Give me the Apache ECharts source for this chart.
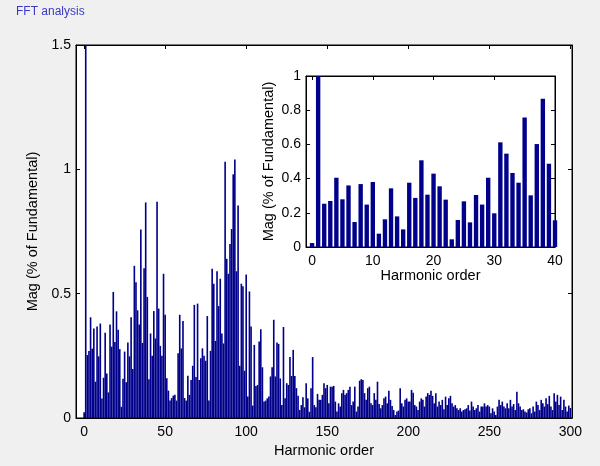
<!DOCTYPE html>
<html>
<head>
<meta charset="utf-8">
<script src="https://cdn.jsdelivr.net/npm/echarts@6/dist/echarts.min.js"></script>
<style>
html,body{margin:0;padding:0;background:#f0f0f0;}
#chart{width:600px;height:466px;}
</style>
</head>
<body>
<div id="chart"></div>
<script>
// Magnitude (% of fundamental) for harmonic orders 0..300
const magnitude = [
  0.023, 100, 0.253, 0.269, 0.405, 0.279, 0.36, 0.146, 0.368, 0.248,
  0.38, 0.078, 0.162, 0.343, 0.179, 0.103, 0.376, 0.287, 0.507, 0.306,
  0.429, 0.355, 0.277, 0.045, 0.158, 0.267, 0.144, 0.304, 0.248, 0.405,
  0.197, 0.612, 0.546, 0.433, 0.376, 0.758, 0.302, 0.602, 0.867, 0.487,
  0.156, 0.34, 0.25, 0.43, 0.32, 0.87, 0.44, 0.29, 0.25, 0.58,
  0.415, 0.16, 0.11, 0.07, 0.08, 0.09, 0.093, 0.07, 0.26, 0.415,
  0.28, 0.39, 0.08, 0.07, 0.17, 0.093, 0.153, 0.21, 0.455, 0.165,
  0.46, 0.153, 0.24, 0.28, 0.25, 0.23, 0.41, 0.07, 0.27, 0.60,
  0.54, 0.31, 0.59, 0.45, 0.56, 0.34, 0.30, 1.03, 0.64, 0.58,
  0.70, 0.76, 0.98, 1.04, 0.59, 0.855, 0.21, 0.54, 0.53, 0.19,
  0.577, 0.086, 0.509, 0.368, 0.05, 0.294, 0.129, 0.133, 0.308, 0.357,
  0.204, 0.066, 0.070, 0.079, 0.086, 0.167, 0.204, 0.395, 0.167, 0.304,
  0.298, 0.159, 0.052, 0.366, 0.079, 0.140, 0.133, 0.245, 0.169, 0.274,
  0.169, 0.12, 0.089, 0.032, 0.052, 0.083, 0.043, 0.14, 0.079, 0.025,
  0.12, 0.245, 0.052, 0.043, 0.097, 0.073, 0.073, 0.093, 0.14, 0.12,
  0.133, 0.059, 0.126, 0.126, 0.129, 0.066, 0.026, 0.059, 0.046, 0.10,
  0.113, 0.093, 0.10, 0.113, 0.126, 0.052, 0.066, 0.126, 0.026, 0.046,
  0.15, 0.156, 0.153, 0.10, 0.073, 0.12, 0.126, 0.059, 0.052, 0.10,
  0.073, 0.146, 0.056, 0.039, 0.052, 0.079, 0.086, 0.059, 0.11, 0.073,
  0.048, 0.032, 0.012, 0.026, 0.03, 0.12, 0.059, 0.046, 0.073, 0.079,
  0.066, 0.066, 0.113, 0.102, 0.052, 0.046, 0.032, 0.066, 0.079, 0.073,
  0.046, 0.086, 0.10, 0.093, 0.11, 0.089, 0.059, 0.10, 0.046, 0.066,
  0.052, 0.073, 0.035, 0.086, 0.052, 0.079, 0.089, 0.059, 0.046, 0.052,
  0.039, 0.032, 0.039, 0.026, 0.032, 0.035, 0.039, 0.052, 0.03, 0.066,
  0.046, 0.032, 0.039, 0.052, 0.026, 0.046, 0.046, 0.059, 0.046, 0.052,
  0.046, 0.019, 0.039, 0.026, 0.012, 0.046, 0.073, 0.052, 0.066, 0.046,
  0.039, 0.059, 0.039, 0.073, 0.046, 0.056, 0.032, 0.106, 0.059, 0.046,
  0.032, 0.035, 0.026, 0.022, 0.035, 0.039, 0.019, 0.046, 0.026, 0.066,
  0.052, 0.032, 0.073, 0.059, 0.046, 0.079, 0.056, 0.089, 0.046, 0.032,
  0.10, 0.066, 0.093, 0.052, 0.086, 0.032, 0.073, 0.046, 0.026, 0.05,
  0.04
];
const harmonicOrder = magnitude.map((_, i) => i);
const insetCount = 41; // harmonics 0..40 shown in the zoomed inset

const mainXTicks = [0, 50, 100, 150, 200, 250, 300];
const mainYTicks = [0, 0.5, 1, 1.5];
const insetXTicks = [0, 10, 20, 30, 40];
const insetYTicks = [0, 0.2, 0.4, 0.6, 0.8, 1];

const titleText = 'FFT analysis';
const xName = 'Harmonic order';
const yName = 'Mag (% of Fundamental)';

const FONT = 'Liberation Sans, Arial, Helvetica, sans-serif';
const BAR = '#00008b';

const mainData = harmonicOrder.map((h, i) => [h, magnitude[i]]);
const insetData = harmonicOrder.slice(0, insetCount).map((h, i) => [h, magnitude[i]]);

const lbl = { color: '#000', fontSize: 14, fontFamily: FONT };
const nameStyle = { color: '#000', fontSize: 14.5, fontFamily: FONT };
const blackLine = { lineStyle: { color: '#000', width: 1 } };

function xAx(grid, min, max, ticks, showLabel, pos) {
  return {
    gridIndex: grid, type: 'value', min: min, max: max, position: pos,
    axisLine: Object.assign({ show: true, onZero: false }, blackLine),
    axisTick: Object.assign({ show: true, inside: true, length: 4, customValues: ticks }, blackLine),
    axisLabel: Object.assign({ show: showLabel, customValues: ticks, margin: 7 }, lbl),
    splitLine: { show: false }
  };
}
function yAx(grid, min, max, ticks, showLabel, pos) {
  return {
    gridIndex: grid, type: 'value', min: min, max: max, position: pos,
    axisLine: Object.assign({ show: true, onZero: false }, blackLine),
    axisTick: Object.assign({ show: true, inside: true, length: 4, customValues: ticks }, blackLine),
    axisLabel: Object.assign({ show: showLabel, customValues: ticks, margin: 5 }, lbl),
    splitLine: { show: false }
  };
}

const xMain = xAx(0, -5, 301, mainXTicks, true, 'bottom');
Object.assign(xMain, { name: xName, nameLocation: 'middle', nameGap: 24, nameTextStyle: nameStyle });
const yMain = yAx(0, 0, 1.5, mainYTicks, true, 'left');
Object.assign(yMain, { name: yName, nameLocation: 'middle', nameGap: 26, nameTextStyle: nameStyle });
const xInset = xAx(1, -1, 40, insetXTicks, true, 'bottom');
Object.assign(xInset, { name: xName, nameLocation: 'middle', nameGap: 18, nameTextStyle: nameStyle });
const yInset = yAx(1, 0, 1, insetYTicks, true, 'left');
Object.assign(yInset, { name: yName, nameLocation: 'middle', nameGap: 30, nameTextStyle: nameStyle });

const option = {
  backgroundColor: '#f0f0f0',
  animation: false,
  title: {
    text: titleText, left: 11, top: 1,
    textStyle: { color: '#3a3ac4', fontSize: 12, fontWeight: 'normal', fontFamily: FONT }
  },
  grid: [
    { left: 76, top: 45, width: 496, height: 373, show: true, backgroundColor: '#ffffff', borderColor: '#000', borderWidth: 1 },
    { left: 306, top: 76, width: 249, height: 171, show: true, backgroundColor: '#ffffff', borderColor: '#000', borderWidth: 1 }
  ],
  xAxis: [
    xMain,
    xAx(0, -5, 301, mainXTicks, false, 'top'),
    xInset,
    xAx(1, -1, 40, insetXTicks, false, 'top')
  ],
  yAxis: [
    yMain,
    yAx(0, 0, 1.5, mainYTicks, false, 'right'),
    yInset,
    yAx(1, 0, 1, insetYTicks, false, 'right')
  ],
  series: [
    {
      type: 'bar', xAxisIndex: 0, yAxisIndex: 0, data: mainData,
      barWidth: '100%', clip: true,
      itemStyle: { color: BAR }
    },
    {
      type: 'bar', xAxisIndex: 2, yAxisIndex: 2, data: insetData,
      barWidth: '72%', clip: true,
      itemStyle: { color: BAR }
    }
  ]
};

const chart = echarts.init(document.getElementById('chart'), null, { renderer: 'canvas' });
chart.setOption(option);
</script>
</body>
</html>
